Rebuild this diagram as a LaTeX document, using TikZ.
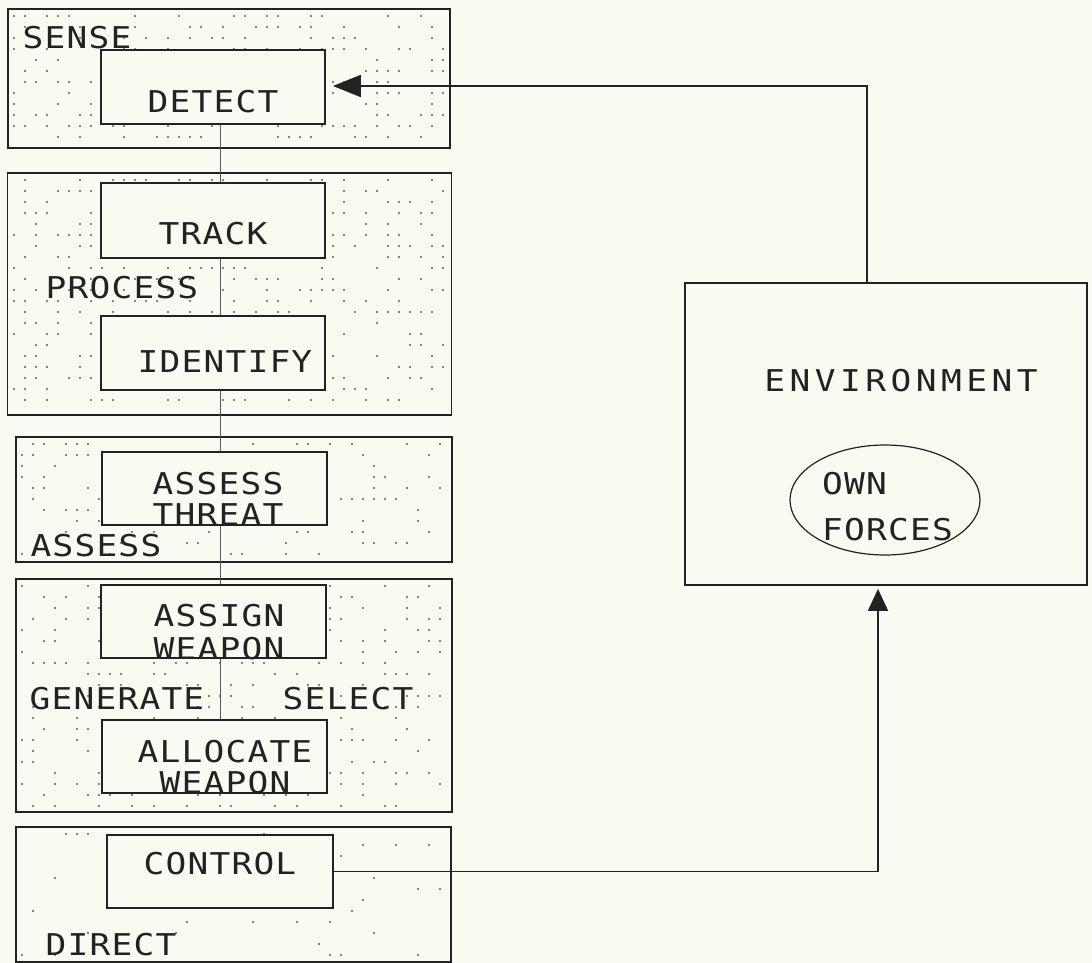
\documentclass[tikz,border=0pt]{standalone}
\usepackage{fontspec}
\usetikzlibrary{arrows.meta}
\newfontfamily\plotfont[FakeStretch=1.15,LetterSpace=4]{DejaVu Sans Mono}
\newfontfamily\plotwide[FakeStretch=1.15,LetterSpace=15]{DejaVu Sans Mono}
\definecolor{paper}{RGB}{250,250,243}
\definecolor{ink}{RGB}{34,34,34}
\definecolor{dotc}{RGB}{95,95,90}

% sparse stipple of dots inside a rectangle: x1,y1,x2,y2,density
\newcommand\stipple[5]{%
  \pgfmathtruncatemacro\stnx{(#3-#1)/11}%
  \pgfmathtruncatemacro\stny{(#4-#2)/11}%
  \foreach \i in {0,...,\stnx}{%
    \foreach \j in {0,...,\stny}{%
      \pgfmathtruncatemacro\stkeep{rnd<#5}%
      \ifnum\stkeep=1 \fill[dotc] ({#1+11*\i},{#2+11*\j}) circle[radius=1.05];\fi
    }}}

\begin{document}
\begin{tikzpicture}[x=1pt,y=-1pt,
  stage/.style={draw=ink,line width=1.8pt,rectangle,inner sep=0pt},
  func/.style={draw=ink,line width=1.8pt,fill=paper,rectangle,inner sep=0pt},
  txt/.style={inner sep=0pt,text=ink,font=\plotfont\fontsize{30}{31}\selectfont},
  spineline/.style={draw=ink!75,line width=0.9pt},
  flow/.style={draw=ink,line width=1.8pt}]
\pgfmathsetseed{4242}
\useasboundingbox (0,0) rectangle (1092,963);
\fill[paper] (0,0) rectangle (1092,963);

% stipple in the stage panels
\stipple{14}{16}{444}{142}{0.38}
\stipple{14}{180}{444}{408}{0.38}
\stipple{22}{444}{446}{556}{0.3}
\stipple{22}{586}{446}{806}{0.33}
\stipple{22}{834}{446}{956}{0.08}

% stage panels
\node[stage,minimum width=442pt,minimum height=139pt] (sense) at (229,78.5) {};
\node[stage,minimum width=444pt,minimum height=242pt] (process) at (229.5,294) {};
\node[stage,minimum width=436pt,minimum height=125pt] (assess) at (234,499.5) {};
\node[stage,minimum width=436pt,minimum height=233pt] (generate) at (234,695.5) {};
\node[stage,minimum width=435pt,minimum height=135pt] (direct) at (233.5,894.5) {};

% function boxes
\node[func,minimum width=224pt,minimum height=74pt] (detect) at (213,87) {};
\node[func,minimum width=224pt,minimum height=75pt] (track) at (213,220.5) {};
\node[func,minimum width=224pt,minimum height=74pt] (identify) at (213,353) {};
\node[func,minimum width=225pt,minimum height=73pt] (threat) at (214.5,488.5) {};
\node[func,minimum width=225pt,minimum height=73pt] (assign) at (213.5,621.5) {};
\node[func,minimum width=225pt,minimum height=73pt] (allocate) at (214.5,756.5) {};
\node[func,minimum width=226pt,minimum height=73pt] (control) at (220,871.5) {};

% texts of the function boxes
\node[txt] (tdetect) at (213,102) {DETECT};
\node[txt] (ttrack) at (213,234) {TRACK};
\node[txt] (tidentify) at (225,362) {IDENTIFY};
\node[txt,align=center] (tthreat) at (218,498.5) {ASSESS\\THREAT};
\node[txt,align=center,font=\plotfont\fontsize{30}{33}\selectfont] (tassign) at (219,632.5) {ASSIGN\\WEAPON};
\node[txt,align=center] (tallocate) at (225,767.5) {ALLOCATE\\WEAPON};
\node[txt] (tcontrol) at (220,864) {CONTROL};

% stage labels
\node[txt] (lsense) at (77,38) {SENSE};
\node[txt] (lprocess) at (122,288) {PROCESS};
\node[txt] (lassess) at (96,546) {ASSESS};
\node[txt] (lgenerate) at (117,699) {GENERATE};
\node[txt] (lselect) at (348,699) {SELECT};
\node[txt] (ldirect) at (111,945) {DIRECT};

% environment
\node[stage,minimum width=402pt,minimum height=302pt] (env) at (886,434) {};
\node[txt,font=\plotwide\fontsize{30}{31}\selectfont] (tenv) at (901,381) {ENVIRONMENT};
\draw[ink,line width=1.2pt] (885,500) ellipse[x radius=95,y radius=55];
\node[txt,align=left,font=\plotfont\fontsize{30}{46}\selectfont,anchor=north west] (town) at (822,472) {OWN\\FORCES};

% spine linking the function boxes
\coordinate (spine) at (220,0);
\draw[spineline] (detect.south -| spine) -- (track.north -| spine);
\draw[spineline] (track.south -| spine) -- (identify.north -| spine);
\draw[spineline] (identify.south -| spine) -- (threat.north -| spine);
\draw[spineline] (threat.south -| spine) -- (assign.north -| spine);
\draw[spineline] (assign.south -| spine) -- (allocate.north -| spine);

% feedback and control loops
\coordinate (fb) at (867,86);
\coordinate (cb) at (878,0);
\draw[flow,-{Triangle[length=28pt,width=22pt]},shorten >=7pt]
  (env.north -| fb) -- (fb) -- (detect.east |- fb);
\draw[flow,-{Triangle[length=22pt,width=20pt]},shorten >=3pt]
  (control.east) -- (control.east -| cb) -- (env.south -| cb);
\end{tikzpicture}
\end{document}
